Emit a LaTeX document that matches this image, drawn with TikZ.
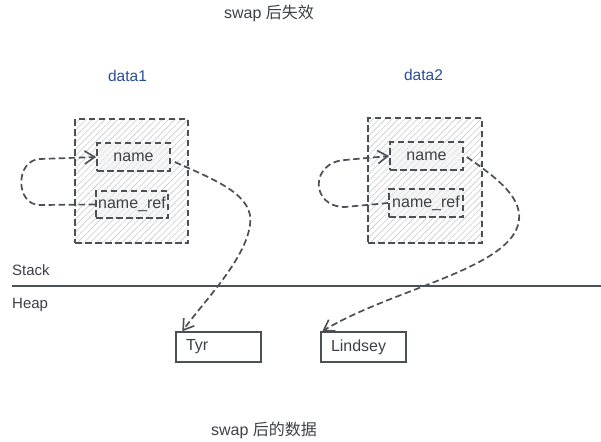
\documentclass[tikz,border=0pt]{standalone}
\usepackage{fontspec}
\setmainfont{Liberation Sans}
\newfontfamily\cjk{Noto Sans CJK SC}
\usetikzlibrary{arrows.meta,patterns.meta,calc}
\definecolor{txt}{HTML}{3D4147}
\definecolor{ln}{HTML}{4B4F56}
\definecolor{blu}{HTML}{2B4D94}
\tikzset{
  x=1pt,y=-1pt,
  lbl/.style={inner sep=0pt,text=txt,font=\fontsize{15pt}{18pt}\selectfont},
  biglbl/.style={lbl,font=\fontsize{16pt}{19pt}\selectfont},
  datalbl/.style={lbl,text=blu,font=\fontsize{15.5pt}{18pt}\selectfont},
  dsh/.style={draw=ln,line width=1.7pt,dash pattern=on 6.5pt off 3.5pt},
  outerbox/.style={dsh,pattern={Lines[angle=45,distance=4.5pt,line width=0.6pt]},pattern color=gray!40,inner sep=0pt},
  fieldbox/.style={dsh,fill=gray!12,fill opacity=0.55,text opacity=1,text=txt,inner sep=0pt,
     font=\fontsize{16pt}{19pt}\selectfont},
  heapbox/.style={draw=ln,line width=1.4pt,minimum width=85pt,minimum height=30pt,inner sep=0pt,
     text=txt,font=\fontsize{16pt}{19pt}\selectfont},
  ptr/.style={dsh,-{Straight Barb[length=10pt,width=13pt,line width=1.6pt]}},
}
\begin{document}
\begin{tikzpicture}
\useasboundingbox[fill=white] (0,0) rectangle (601,441);
% titles
\node[biglbl] (title) at (269,13) {swap {\cjk 后失效}};
\node[biglbl] (bottom) at (264,430) {swap {\cjk 后的数据}};
\node[datalbl] (d1) at (127.5,76) {data1};
\node[datalbl] (d2) at (423.5,75) {data2};
% stack / heap
\coordinate (sl) at (12,286);
\coordinate (sr) at (601,286);
\draw[ln,line width=1.3pt] (sl) -- (sr);
\node[lbl,anchor=west] (stack) at (12,270) {Stack};
\node[lbl,anchor=west] (heap) at (12,305) {Heap};
% data1
\node[outerbox,minimum width=113pt,minimum height=124pt] (o1) at (131.5,181) {};
\node[fieldbox,minimum width=73pt,minimum height=28pt] (n1) at (133.5,157) {name};
\node[fieldbox,minimum width=72pt,minimum height=27pt] (r1) at (132,204.5) {name\_ref};
% data2
\node[outerbox,minimum width=114pt,minimum height=125pt] (o2) at (425,180.5) {};
\node[fieldbox,minimum width=73pt,minimum height=28pt] (n2) at (426.5,156) {name};
\node[fieldbox,minimum width=74pt,minimum height=28pt] (r2) at (426,203) {name\_ref};
% heap boxes
\node[heapbox,text width=65pt,align=left] (tyr) at (218.5,347) {Tyr};
\node[heapbox,text width=65pt,align=left] (lin) at (363.5,347) {Lindsey};
% loops
\draw[ptr] (r1.west) -- (40,205) .. controls (15,205) and (15,160) .. (40,159) -- (n1.west);
\draw[ptr] (r2.west) -- (345,207) .. controls (310,207) and (310,162) .. (345,160) -- (n2.west);
% pointers to heap
\draw[ptr] ($(n1.east)+(4,5)$) .. controls (215,180) and (255,195) .. (250,225)
   .. controls (245,260) and (205,300) .. ($(tyr.north west)+(7,0)$);
\draw[ptr] ($(n2.east)+(3,1)$) .. controls (500,180) and (525,200) .. (518,225)
   .. controls (505,270) and (390,290) .. ($(lin.north west)+(2,0)$);
\end{tikzpicture}
\end{document}
